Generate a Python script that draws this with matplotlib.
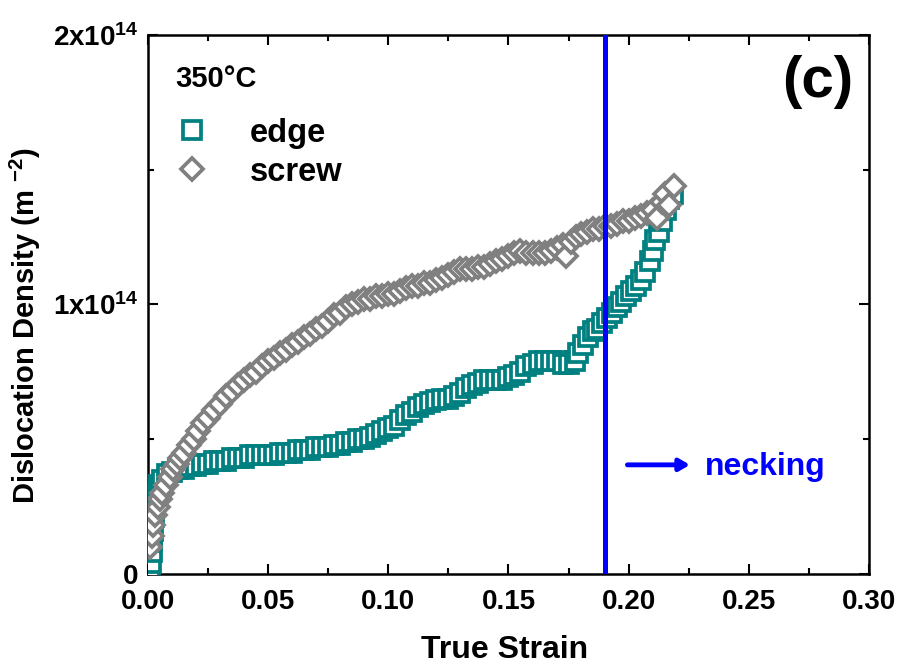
import numpy as np
import matplotlib
matplotlib.use('Agg')
import matplotlib.pyplot as plt
from matplotlib.ticker import MultipleLocator, FuncFormatter

plt.rcParams['font.family'] = ['Liberation Sans', 'DejaVu Sans']
plt.rcParams['mathtext.fontset'] = 'custom'
plt.rcParams['mathtext.rm'] = 'Liberation Sans:bold'
plt.rcParams['mathtext.bf'] = 'Liberation Sans:bold'
plt.rcParams['mathtext.it'] = 'Liberation Sans:bold'
plt.rcParams['mathtext.default'] = 'bf'

NARROW = ['Liberation Sans Narrow', 'Liberation Sans', 'DejaVu Sans']

# ---------------------------------------------------------------
# data (strain, dislocation density in 1e14 m^-2)
# ---------------------------------------------------------------
edge_strain = [
    0.0010, 0.0012, 0.0015, 0.0018, 0.0020, 0.0025, 0.0030, 0.0035, 0.0045, 0.0060,
    0.0080, 0.0100, 0.0125, 0.0150, 0.0175, 0.0200, 0.0225, 0.0250, 0.0275, 0.0300,
    0.0325, 0.0350, 0.0375, 0.0400, 0.0425, 0.0450, 0.0475, 0.0500, 0.0525, 0.0550,
    0.0575, 0.0600, 0.0625, 0.0650, 0.0675, 0.0700, 0.0725, 0.0750, 0.0775, 0.0800,
    0.0825, 0.0850, 0.0875, 0.0900, 0.0925, 0.0950, 0.0975, 0.1000, 0.1025, 0.1050,
    0.1075, 0.1100, 0.1125, 0.1150, 0.1175, 0.1200, 0.1225, 0.1250, 0.1275, 0.1300,
    0.1325, 0.1350, 0.1375, 0.1400, 0.1425, 0.1450, 0.1475, 0.1500, 0.1525, 0.1550,
    0.1575, 0.1600, 0.1625, 0.1650, 0.1675, 0.1700, 0.1725, 0.1750, 0.1775, 0.1790,
    0.1810, 0.1830, 0.1850, 0.1870, 0.1890, 0.1910, 0.1930, 0.1950, 0.1970, 0.1990,
    0.2010, 0.2030, 0.2050, 0.2070, 0.2090, 0.2100, 0.2110, 0.2125, 0.2140, 0.2155,
    0.2170, 0.2185,
]
edge_density = [
    0.00, 0.04, 0.08, 0.12, 0.16, 0.21, 0.26, 0.30, 0.33, 0.35,
    0.37, 0.38, 0.39, 0.39, 0.40, 0.40, 0.41, 0.41, 0.42, 0.42,
    0.42, 0.43, 0.43, 0.43, 0.44, 0.44, 0.44, 0.44, 0.44, 0.45,
    0.45, 0.45, 0.46, 0.46, 0.46, 0.47, 0.47, 0.47, 0.48, 0.48,
    0.49, 0.49, 0.50, 0.50, 0.51, 0.52, 0.53, 0.54, 0.55, 0.57,
    0.59, 0.60, 0.62, 0.63, 0.64, 0.645, 0.65, 0.65, 0.66, 0.67,
    0.69, 0.70, 0.71, 0.72, 0.72, 0.72, 0.72, 0.73, 0.74, 0.75,
    0.77, 0.78, 0.79, 0.79, 0.79, 0.79, 0.78, 0.78, 0.79, 0.82,
    0.85, 0.88, 0.90, 0.91, 0.93, 0.95, 0.97, 0.99, 1.01, 1.03,
    1.05, 1.07, 1.09, 1.12, 1.16, 1.20, 1.24, 1.27, 1.31, 1.35,
    1.39, 1.41,
]

screw_strain = [
    0.0010, 0.0015, 0.0020, 0.0030, 0.0040, 0.0050, 0.0060, 0.0075, 0.0090, 0.0105,
    0.0120, 0.0135, 0.0150, 0.0170, 0.0190, 0.0210, 0.0230, 0.0250, 0.0275, 0.0300,
    0.0325, 0.0350, 0.0375, 0.0400, 0.0425, 0.0450, 0.0475, 0.0500, 0.0525, 0.0550,
    0.0575, 0.0600, 0.0625, 0.0650, 0.0675, 0.0700, 0.0725, 0.0750, 0.0775, 0.0800,
    0.0825, 0.0850, 0.0875, 0.0900, 0.0925, 0.0950, 0.0975, 0.1000, 0.1025, 0.1050,
    0.1075, 0.1100, 0.1125, 0.1150, 0.1175, 0.1200, 0.1225, 0.1250, 0.1275, 0.1300,
    0.1325, 0.1350, 0.1375, 0.1400, 0.1425, 0.1450, 0.1475, 0.1500, 0.1525, 0.1550,
    0.1575, 0.1600, 0.1625, 0.1650, 0.1675, 0.1700, 0.1725, 0.1740, 0.1760, 0.1780,
    0.1800, 0.1825, 0.1850, 0.1875, 0.1900, 0.1925, 0.1950, 0.1975, 0.2000, 0.2025,
    0.2050, 0.2075, 0.2100, 0.2120, 0.2140, 0.2150, 0.2170, 0.2190,
]
screw_density = [
    0.10, 0.14, 0.18, 0.22, 0.25, 0.28, 0.30, 0.33, 0.36, 0.39,
    0.41, 0.43, 0.45, 0.48, 0.50, 0.53, 0.56, 0.58, 0.61, 0.63,
    0.66, 0.68, 0.70, 0.72, 0.74, 0.75, 0.77, 0.79, 0.80, 0.82,
    0.83, 0.85, 0.86, 0.88, 0.89, 0.91, 0.92, 0.94, 0.96, 0.97,
    0.99, 1.00, 1.01, 1.02, 1.02, 1.03, 1.03, 1.04, 1.04, 1.05,
    1.06, 1.07, 1.07, 1.08, 1.08, 1.09, 1.10, 1.11, 1.12, 1.13,
    1.13, 1.13, 1.14, 1.14, 1.15, 1.16, 1.17, 1.18, 1.19, 1.20,
    1.19, 1.19, 1.19, 1.19, 1.20, 1.21, 1.22, 1.18, 1.23, 1.25,
    1.26, 1.27, 1.28, 1.28, 1.29, 1.29, 1.30, 1.31, 1.31, 1.32,
    1.33, 1.34, 1.35, 1.32, 1.38, 1.41, 1.37, 1.44,
]

NECKING_STRAIN = 0.19
UNIT = 1e14

TEAL = '#008080'
GREY = '#808080'
BLUE = '#0000FF'

# ---------------------------------------------------------------
# plot
# ---------------------------------------------------------------
fig = plt.figure(figsize=(8.99, 6.68), dpi=100)
ax = fig.add_axes([0.1646, 0.1407, 0.802, 0.807])

ax.plot(edge_strain, np.array(edge_density) * UNIT, 's', ms=12.5,
        mfc='white', mec=TEAL, mew=2.7, label='edge', zorder=3)
ax.plot(screw_strain, np.array(screw_density) * UNIT, 'D', ms=11.5,
        mfc='white', mec=GREY, mew=2.7, label='screw', zorder=4)

ax.axvline(NECKING_STRAIN, color=BLUE, lw=3.6, zorder=5)
ax.annotate('', xy=(0.2255, 0.405 * UNIT), xytext=(0.1995, 0.405 * UNIT),
            arrowprops=dict(arrowstyle='-|>,head_length=0.6,head_width=0.35',
                            color=BLUE, lw=3.5, shrinkA=0, shrinkB=0))
ax.text(0.2318, 0.398 * UNIT, 'necking', color=BLUE, fontsize=23,
        fontweight='bold', ha='left', va='center')

ax.text(0.0115, 1.835 * UNIT, '350\u00b0C', fontsize=21, fontweight='bold',
        ha='left', va='center')
ax.text(0.978, 0.913, '(c)', transform=ax.transAxes, fontsize=42,
        fontweight='bold', ha='right', va='center')

ax.legend(loc='upper left', bbox_to_anchor=(0.005, 0.889), frameon=False,
          prop={'weight': 'bold', 'size': 23.5}, handletextpad=1.2,
          labelspacing=0.25, handlelength=1.1, borderaxespad=0.3)

ax.set_xlim(0, 0.30)
ax.set_ylim(0, 2 * UNIT)
ax.xaxis.set_major_locator(MultipleLocator(0.05))
ax.xaxis.set_minor_locator(MultipleLocator(0.025))
ax.yaxis.set_major_locator(MultipleLocator(1 * UNIT))
ax.yaxis.set_minor_locator(MultipleLocator(0.5 * UNIT))
ax.xaxis.set_major_formatter(FuncFormatter(lambda v, p: f'{v:.2f}'))


def y_fmt(v, pos):
    n = int(round(v / UNIT))
    if n == 0:
        return '0'
    return f'{n}x10$^{{14}}$'


ax.yaxis.set_major_formatter(FuncFormatter(y_fmt))

ax.tick_params(which='both', direction='in', top=True, right=True, width=1.5)
ax.tick_params(which='major', length=7)
ax.tick_params(which='minor', length=4.5)
ax.tick_params(axis='x', pad=11, labelsize=20)
ax.tick_params(axis='y', pad=7, labelsize=20)
for lab in ax.get_xticklabels():
    lab.set_family(NARROW)
    lab.set_fontweight('bold')
for lab in ax.get_yticklabels():
    lab.set_fontweight('bold')
for sp in ax.spines.values():
    sp.set_linewidth(1.8)

ax.set_xlabel('True Strain', fontsize=23, fontweight='bold', family=NARROW)
ax.set_ylabel('Dislocation Density (m $^{-2}$)', fontsize=21, fontweight='bold',
              family=NARROW)
ax.xaxis.set_label_coords(0.495, -0.113)
ax.yaxis.set_label_coords(-0.145, 0.46)

fig.savefig('out.png', dpi=100)
